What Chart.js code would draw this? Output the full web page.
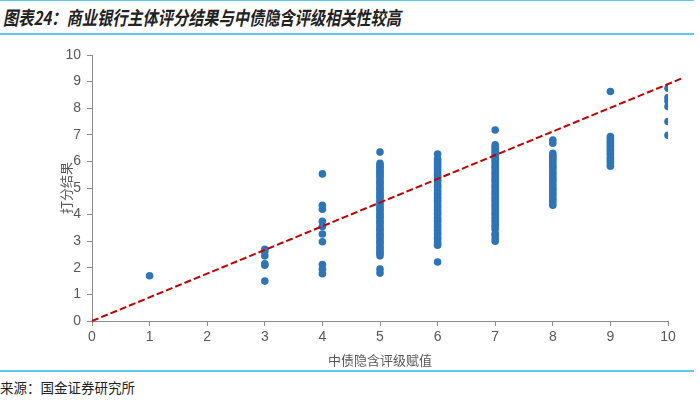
<!DOCTYPE html>
<html>
<head>
    <meta charset="UTF-8">
    <title>商业银行主体评分结果与中债隐含评级</title>
    <script src="https://cdn.jsdelivr.net/npm/chart.js"></script>
    <style>
        body { margin: 0; width: 700px; height: 400px; background: #fff; position: relative; overflow: hidden; }
        .title { position: absolute; left: 3px; top: 3px; font: italic bold 19px "Noto Sans CJK SC", sans-serif; color: #222; white-space: nowrap; transform: scaleX(0.8); transform-origin: left top; }
        .rule { position: absolute; left: 0; width: 694px; height: 2px; background: #5cc8ef; }
        .source { position: absolute; left: 0; top: 377px; font: 13.5px "Noto Sans CJK SC", sans-serif; color: #222; }
        .box { position: absolute; left: 0; top: 40px; width: 700px; height: 328px; }
    </style>
</head>
<body>
    <div class="rule" style="top:0px;height:1px"></div>
    <div class="title">图表24：商业银行主体评分结果与中债隐含评级相关性较高</div>
    <div class="rule" style="top:33px"></div>
    <div class="box"><canvas id="scoreChart"></canvas></div>
    <div class="rule" style="top:370px"></div>
    <div class="source">来源：国金证券研究所</div>

    <script>
        // scores, one list per rating value
        const ratingLevels = [1, 3, 4, 5, 6, 7, 8, 9, 10];
        const scores1 = [1.7];
        const scores3 = [2.7, 2.6, 2.45, 2.15, 2.1, 1.5];
        const scores4 = [5.53, 4.35, 4.2, 3.75, 3.55, 3.27, 2.98, 2.12, 1.95, 1.78];
        const scores5 = [6.35, 5.93, 5.85, 5.78, 5.7, 5.62, 5.55, 5.47, 5.4, 5.3, 5.22, 5.15, 5.05, 4.98, 4.9, 4.8, 4.72, 4.65, 4.55, 4.47, 4.4, 4.3, 4.22, 4.15, 4.05, 3.97, 3.9, 3.8, 3.72, 3.65, 3.55, 3.47, 3.4, 3.3, 3.22, 3.15, 3.05, 2.97, 2.9, 2.8, 2.72, 2.62, 2.55, 2.45, 1.95, 1.8];
        const scores6 = [6.28, 6.1, 6.02, 5.95, 5.87, 5.8, 5.72, 5.65, 5.55, 5.48, 5.4, 5.32, 5.25, 5.15, 5.07, 5.0, 4.9, 4.82, 4.75, 4.65, 4.57, 4.5, 4.4, 4.32, 4.25, 4.15, 4.07, 4.0, 3.9, 3.82, 3.75, 3.65, 3.57, 3.5, 3.4, 3.32, 3.25, 3.15, 3.07, 2.98, 2.9, 2.85, 2.22];
        const scores7 = [7.18, 6.62, 6.55, 6.47, 6.4, 6.32, 6.25, 6.15, 6.07, 6.0, 5.9, 5.82, 5.75, 5.65, 5.57, 5.5, 5.4, 5.32, 5.25, 5.15, 5.07, 5.0, 4.9, 4.82, 4.75, 4.65, 4.57, 4.5, 4.4, 4.32, 4.25, 4.15, 4.07, 4.0, 3.9, 3.8, 3.72, 3.62, 3.55, 3.45, 3.3, 3.22, 3.1, 3.0];
        const scores8 = [6.8, 6.68, 6.3, 6.22, 6.15, 6.07, 6.0, 5.9, 5.82, 5.75, 5.65, 5.57, 5.5, 5.4, 5.32, 5.25, 5.15, 5.05, 4.97, 4.9, 4.8, 4.72, 4.62, 4.55, 4.45, 4.35];
        const scores9 = [8.63, 6.93, 6.85, 6.77, 6.7, 6.62, 6.55, 6.47, 6.4, 6.32, 6.25, 6.15, 6.07, 6.0, 5.9, 5.82];
        const scores10 = [8.75, 8.4, 8.27, 8.06, 7.5, 6.98];
        const scoreLists = [scores1, scores3, scores4, scores5, scores6, scores7, scores8, scores9, scores10];

        // dashed reference line end points
        const lineX = [0, 10.24];
        const lineY = [0, 9.12];

        const points = [];
        ratingLevels.forEach((lvl, i) => {
            scoreLists[i].forEach(v => points.push({ x: lvl, y: v }));
        });
        const linePoints = lineX.map((x, i) => ({ x: x, y: lineY[i] }));

        const axisColor = '#8c8c8c';
        const labelColor = '#595959';

        // y title sits close to the tick labels, so draw it by hand
        const yTitle = {
            id: 'yTitle',
            afterDraw(chart) {
                const c = chart.ctx;
                const area = chart.chartArea;
                c.save();
                c.translate(66, (area.top + area.bottom) / 2);
                c.rotate(-Math.PI / 2);
                c.fillStyle = labelColor;
                c.font = '13px "Noto Sans CJK SC"';
                c.textAlign = 'center';
                c.textBaseline = 'middle';
                c.fillText('打分结果', 0, 0);
                c.restore();
            }
        };

        new Chart(document.getElementById('scoreChart'), {
            type: 'scatter',
            data: {
                datasets: [{
                    type: 'line',
                    data: linePoints,
                    borderColor: '#c00000',
                    borderWidth: 2,
                    borderDash: [7, 3],
                    pointRadius: 0,
                    fill: false,
                    clip: false,
                    order: 0
                }, {
                    data: points,
                    backgroundColor: '#2e75b6',
                    borderWidth: 0,
                    pointRadius: 3.8,
                    order: 1
                }]
            },
            options: {
                responsive: true,
                maintainAspectRatio: false,
                animation: false,
                layout: { padding: { top: 15, right: 32, left: 0, bottom: 0 } },
                plugins: { legend: { display: false }, tooltip: { enabled: false } },
                scales: {
                    x: {
                        type: 'linear',
                        min: 0, max: 10,
                        afterFit: s => { s.height = 47; },
                        grid: { drawOnChartArea: false, drawTicks: true, tickLength: 5, color: axisColor },
                        border: { color: axisColor, width: 1 },
                        ticks: { stepSize: 1, color: labelColor, padding: 3, font: { family: 'Liberation Sans', size: 14 } },
                        title: { display: true, text: '中债隐含评级赋值', color: labelColor, padding: { top: 2, bottom: 0 }, font: { family: 'Noto Sans CJK SC', size: 13 } }
                    },
                    y: {
                        min: 0, max: 10,
                        afterFit: s => { s.width = 92; },
                        grid: { drawOnChartArea: false, drawTicks: true, tickLength: 5, color: axisColor },
                        border: { color: axisColor, width: 1 },
                        ticks: { stepSize: 1, color: labelColor, padding: 6, font: { family: 'Liberation Sans', size: 14 } }
                    }
                }
            },
            plugins: [yTitle]
        });
    </script>
</body>
</html>
